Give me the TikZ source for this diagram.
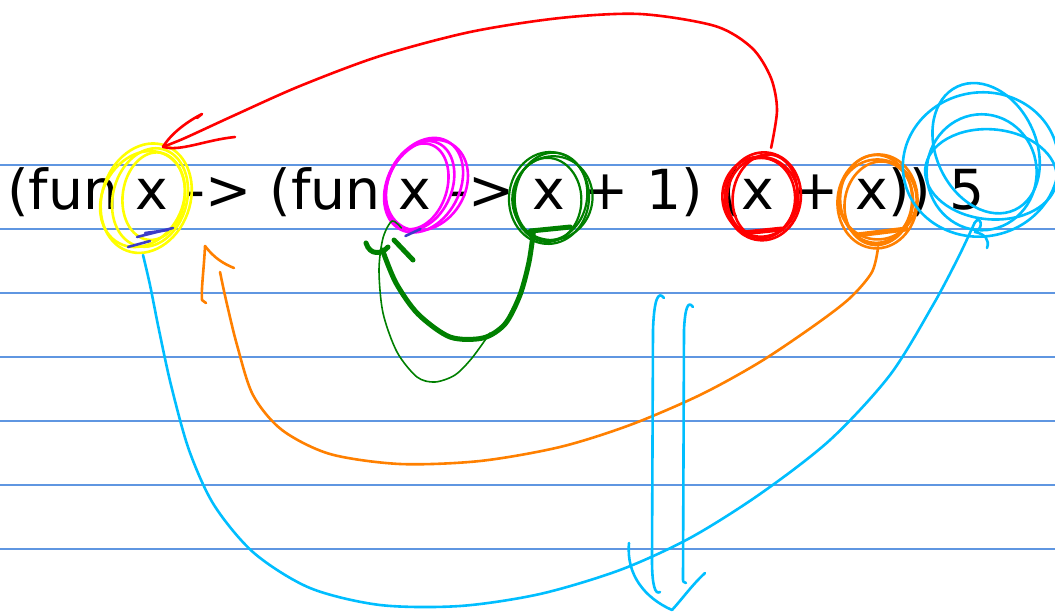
\documentclass[tikz,border=0pt]{standalone}
\usepackage{fontspec}
\setmainfont{DejaVu Sans}

\definecolor{rulecol}{RGB}{95,150,225}
\definecolor{penyellow}{RGB}{255,255,0}
\definecolor{penred}{RGB}{255,0,0}
\definecolor{penmagenta}{RGB}{255,0,255}
\definecolor{pengreen}{RGB}{0,128,0}
\definecolor{penorange}{RGB}{255,128,0}
\definecolor{pencyan}{RGB}{0,190,255}
\definecolor{penblue}{RGB}{60,60,200}

\begin{document}
\begin{tikzpicture}[x=1pt, y=-1pt,
    txt/.style={inner sep=0pt, outer sep=0pt, anchor=base west, font=\fontsize{55.2}{66}\selectfont},
    rule/.style={draw=rulecol, line width=1.4pt},
    pen/.style={line width=2.6pt, line cap=round, line join=round},
    thin pen/.style={line width=1.6pt, line cap=round, line join=round},
    fat pen/.style={line width=5pt, line cap=round, line join=round}]
    \useasboundingbox (0,0) rectangle (1055,611);
    \clip (0,0) rectangle (1055,611);
    \fill[white] (0,0) rectangle (1055,611);
    \foreach \y in {165,229,...,549}
        \draw[rule] (0,\y) -- (1055,\y);

    \node (fun1) [txt] at (7.2,209) {(fun\ \null};
    \node (x1) [txt] at (fun1.base east) {x};
    \node (fun2) [txt] at (x1.base east) {\ -> (fun\ \null};
    \node (x2) [txt] at (fun2.base east) {x};
    \node (arrow2) [txt] at (x2.base east) {\ ->\ \null};
    \node (x3) [txt] at (arrow2.base east) {x};
    \node (plus1) [txt] at (x3.base east) {\ + 1) (};
    \node (x4) [txt] at (plus1.base east) {x};
    \node (plus2) [txt] at (x4.base east) {\ +\ \null};
    \node (x5) [txt] at (plus2.base east) {x};
    \node (close) [txt] at (x5.base east) {))\ \null};
    \node (five) [txt] at (close.base east) {5};

    % rings
    \foreach \dx/\dy/\rx/\ry/\rot in {-4/6/44/56/-20, -1/4/37/50/-15, 2/2/31/44/-8, -6/9/40/50/-28}
        \draw[pen, penyellow, rotate around={\rot:([shift={(\dx,\dy)}]x1.center)}]
            ([shift={(\dx,\dy)}]x1.center) ellipse [x radius=\rx, y radius=\ry];
    \foreach \dx/\dy/\rx/\ry/\rot in {4/-12/36/50/-28, 2/-10/32/46/-22, 6/-14/38/48/-32, 0/-8/30/44/-18}
        \draw[pen, penmagenta, rotate around={\rot:([shift={(\dx,\dy)}]x2.center)}]
            ([shift={(\dx,\dy)}]x2.center) ellipse [x radius=\rx, y radius=\ry];
    \foreach \dx/\dy/\rx/\ry/\rot in {1/4/40/46/-5, 3/2/36/44/-10, -1/6/34/42/0, 5/3/40/42/-15}
        \draw[thin pen, pengreen, line width=2.2pt, rotate around={\rot:([shift={(\dx,\dy)}]x3.center)}]
            ([shift={(\dx,\dy)}]x3.center) ellipse [x radius=\rx, y radius=\ry];
    \foreach \dx/\dy/\rx/\ry/\rot in {5/2/38/44/-5, 3/4/34/40/0, 7/1/32/42/-10, 2/3/38/40/5}
        \draw[pen, penred, rotate around={\rot:([shift={(\dx,\dy)}]x4.center)}]
            ([shift={(\dx,\dy)}]x4.center) ellipse [x radius=\rx, y radius=\ry];
    \foreach \dx/\dy/\rx/\ry/\rot in {6/7/40/47/-5, 4/5/36/44/0, 8/8/34/42/-10, 5/6/39/40/5}
        \draw[pen, penorange, rotate around={\rot:([shift={(\dx,\dy)}]x5.center)}]
            ([shift={(\dx,\dy)}]x5.center) ellipse [x radius=\rx, y radius=\ry];
    \foreach \dx/\dy/\rx/\ry/\rot in {18/-22/78/72/10, 15/-17/55/58/0, 23/-17/66/45/-5, 35/-29/50/68/25}
        \draw[pen, pencyan, rotate around={\rot:([shift={(\dx,\dy)}]five.center)}]
            ([shift={(\dx,\dy)}]five.center) ellipse [x radius=\rx, y radius=\ry];
    \draw[fat pen, pengreen] ([shift={(-18,22)}]x3.south) -- ([shift={(22,18)}]x3.south);
    \draw[fat pen, penred] ([shift={(-15,24)}]x4.south) -- ([shift={(24,20)}]x4.south);
    \draw[fat pen, penorange] ([shift={(-15,26)}]x5.south) -- ([shift={(34,20)}]x5.south);
    \draw[pen, penblue] ([shift={(-15,28)}]x1.south) -- ([shift={(21,19)}]x1.south);
    \draw[pen, penblue] ([shift={(-7,24)}]x1.south) -- ([shift={(16,21)}]x1.south);
    \draw[pen, penblue] ([shift={(-24,38)}]x1.south) -- ([shift={(-2,32)}]x1.south);
    \draw[pen, penblue] ([shift={(-9,27)}]x2.south) -- ([shift={(6,20)}]x2.south);

    % red: x4 -> x1
    \coordinate (redstart) at ([shift={(13,-31)}]x4.north);
    \coordinate (redtip) at ([shift={(11,-32)}]x1.north);
    \draw[pen, penred] plot[smooth] coordinates {(redstart) (777,110) (771,78) (752,48) (715,26)
        (640,14) (560,18) (470,32) (380,56) (300,86) (235,115) (185,138) (redtip)};
    \draw[pen, penred] (redtip) .. controls (172,132) and (190,120) .. (202,114) -- (197,118);
    \draw[pen, penred] (redtip) .. controls (180,152) and (205,140) .. (235,137);

    % green: x3 -> x2
    \coordinate (greenstart) at ([shift={(-15,23)}]x3.south);
    \coordinate (greenend) at ([shift={(-32,41)}]x2.south);
    \draw[fat pen, pengreen] plot[smooth] coordinates {(greenstart) (529,262) (520,295) (505,324)
        (483,338) (450,337) (418,314) (396,283) (greenend)};
    \draw[fat pen, pengreen] (366,243) .. controls (370,256) and (382,254) .. (388,247);
    \draw[fat pen, pengreen] (394,240) -- (413,260);
    \draw[thin pen, pengreen] plot[smooth] coordinates {([shift={(-13,19)}]x2.south) (392,221) (383,238)
        (379,270) (383,313) (397,352) (417,377) (435,382) (455,375) (472,358) (490,333)};

    % orange: x5 -> x1
    \coordinate (orangestart) at ([shift={(6,38)}]x5.south);
    \coordinate (orangeend) at ([shift={(68,63)}]x1.south);
    \coordinate (orangetip) at ([shift={(53,37)}]x1.south);
    \draw[pen, penorange] plot[smooth] coordinates {(orangestart) (872,272) (850,298) (815,325)
        (760,362) (700,395) (630,425) (560,447) (480,461) (400,464) (330,454) (282,430)
        (253,395) (237,345) (226,300) (orangeend)};
    \draw[pen, penorange] (orangetip) .. controls (204,268) and (201,290) .. (202,300) -- (206,303);
    \draw[pen, penorange] (orangetip) .. controls (214,258) and (224,264) .. (234,268);

    % cyan: x1 -- 5
    \coordinate (cyanstart) at ([shift={(-9,46)}]x1.south);
    \coordinate (cyanend) at ([shift={(8,13)}]five.south);
    \draw[pen, pencyan] plot[smooth] coordinates {(cyanstart) (150,285) (159,330) (171,385)
        (189,450) (214,505) (254,553) (310,588) (380,605) (460,606) (540,594) (620,570)
        (690,538) (760,494) (830,440) (890,375) (933,305) (958,258) (cyanend)};
    \draw[pen, pencyan] (cyanend) .. controls (980,214) and (985,228) .. (975,232)
        .. controls (985,234) and (990,240) .. (987,248);

    % down arrow
    \draw[pen, pencyan] (664,298) .. controls (658,290) and (654,300) .. (653,330) -- (652,560)
        .. controls (652,585) and (655,595) .. (660,592);
    \draw[pen, pencyan] (693,307) .. controls (688,300) and (685,308) .. (684,330) -- (683,578)
        .. controls (683,582) .. (686,583);
    \draw[pen, pencyan] (629,543) .. controls (626,575) and (645,598) .. (672,610)
        .. controls (683,598) and (692,585) .. (705,573);
\end{tikzpicture}
\end{document}
